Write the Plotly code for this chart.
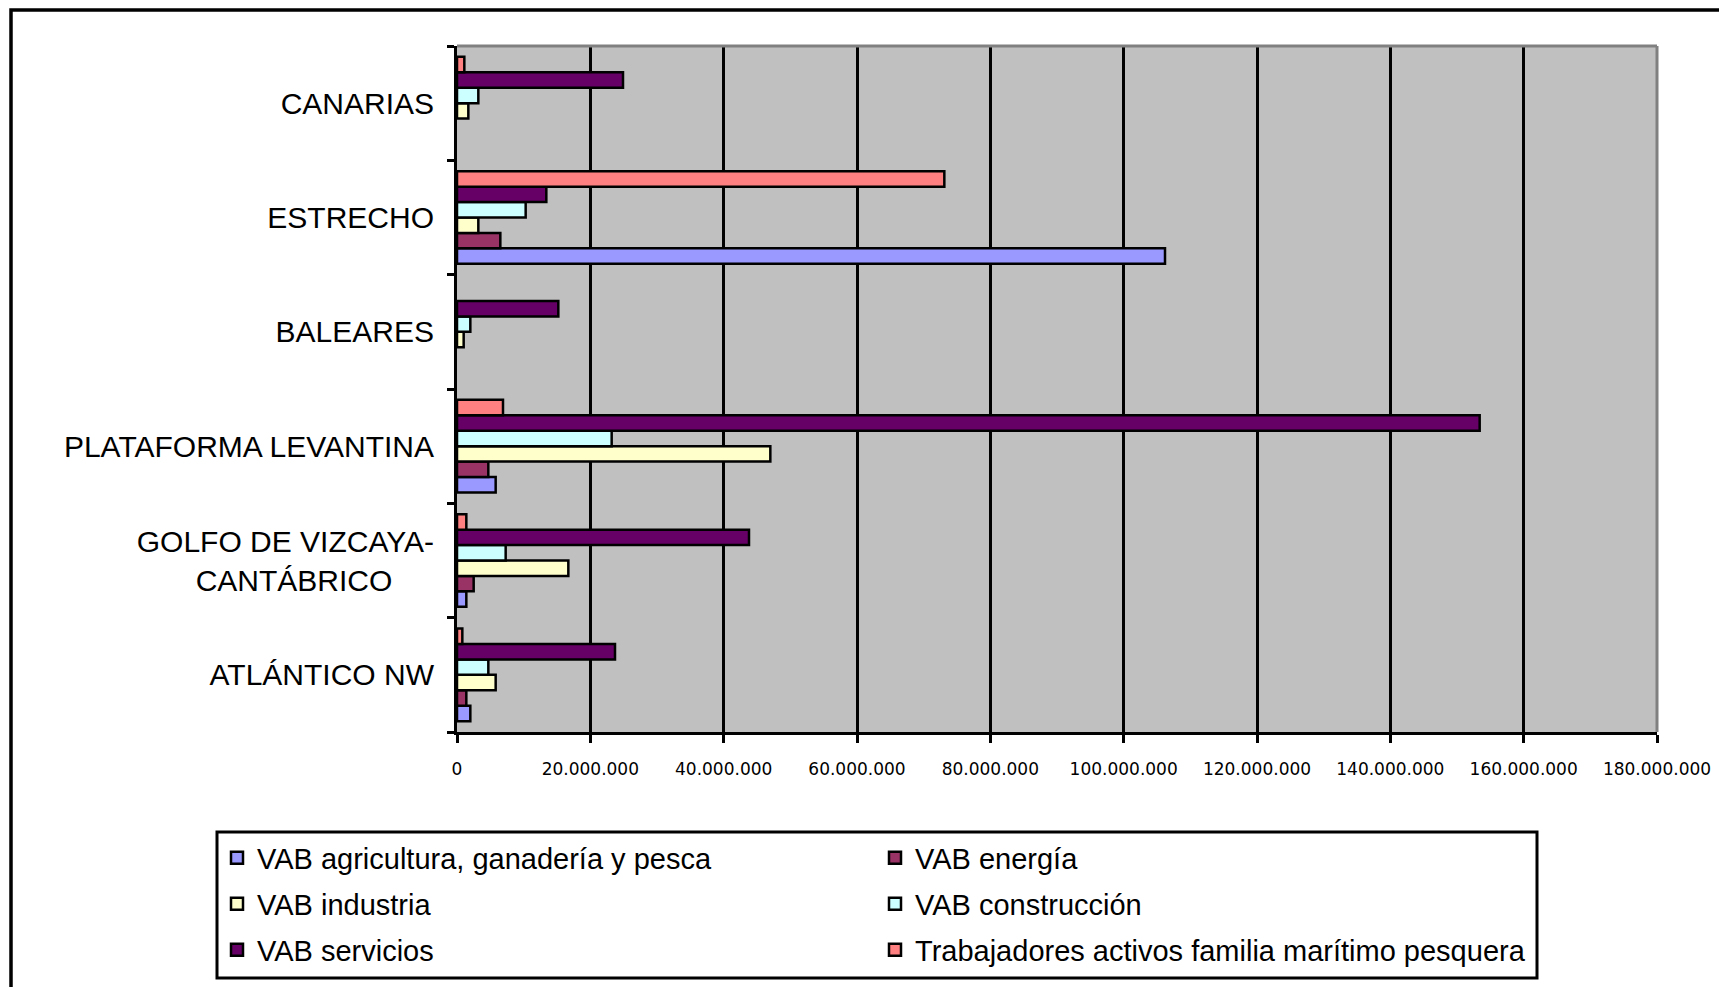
import plotly.graph_objects as go

# ---- data ----
categories = ["ATLÁNTICO NW", "GOLFO DE VIZCAYA-CANTÁBRICO", "PLATAFORMA LEVANTINA",
              "BALEARES", "ESTRECHO", "CANARIAS"]
category_labels = ["ATLÁNTICO NW", "GOLFO DE VIZCAYA-<br>CANTÁBRICO\u00a0\u00a0\u00a0\u00a0\u00a0",
                   "PLATAFORMA LEVANTINA", "BALEARES", "ESTRECHO", "CANARIAS"]

series_names = ["VAB agricultura, ganadería y pesca", "VAB energía", "VAB industria",
                "VAB construcción", "VAB servicios",
                "Trabajadores activos familia marítimo pesquera"]

vab_agricultura = [2.0e6, 1.4e6, 5.8e6, None, 106.2e6, None]
vab_energia = [1.4e6, 2.5e6, 4.7e6, None, 6.5e6, None]
vab_industria = [5.8e6, 16.7e6, 47.0e6, 1.0e6, 3.2e6, 1.7e6]
vab_construccion = [4.7e6, 7.3e6, 23.2e6, 2.0e6, 10.3e6, 3.2e6]
vab_servicios = [23.7e6, 43.8e6, 153.4e6, 15.2e6, 13.4e6, 24.9e6]
trabajadores = [0.8e6, 1.4e6, 6.9e6, None, 73.1e6, 1.1e6]

x_tickvals = [0, 20e6, 40e6, 60e6, 80e6, 100e6, 120e6, 140e6, 160e6, 180e6]
x_ticktext = ["0", "20.000.000", "40.000.000", "60.000.000", "80.000.000",
              "100.000.000", "120.000.000", "140.000.000", "160.000.000", "180.000.000"]

colors = ["#9999FF", "#993366", "#FFFFCC", "#CCFFFF", "#660066", "#FF8080"]
all_series = [vab_agricultura, vab_energia, vab_industria, vab_construccion, vab_servicios, trabajadores]
legend_ids = ["legend", "legend", "legend2", "legend2", "legend3", "legend3"]

# ---- layout geometry (pixels, relative to the figure; page has an 8px body margin) ----
OFF = 8
W, H = 1727 - OFF, 987 - OFF
L, R, T, B = 457 - OFF, 1657 - OFF, 46 - OFF, 732 - OFF
PW, PH = R - L, B - T


def px(xp):
    return (xp - OFF - L) / PW


def py(yp):
    return (B - (yp - OFF)) / PH


FONT = "Liberation Sans, Arial, sans-serif"
TICKFONT = "DejaVu Sans, Liberation Sans, sans-serif"

fig = go.Figure()
for name, vals, col, lg in zip(series_names, all_series, colors, legend_ids):
    fig.add_trace(go.Bar(
        y=categories, x=vals, name=name, orientation="h",
        marker=dict(color=col, line=dict(color="black", width=2.5)),
        legend=lg,
    ))

legend_common = dict(
    orientation="h", xanchor="left", yanchor="middle",
    font=dict(family=FONT, size=29, color="black"),
    bgcolor="rgba(0,0,0,0)", borderwidth=0,
    entrywidth=613, entrywidthmode="pixels",
    itemclick=False, itemdoubleclick=False,
)

fig.update_layout(
    width=W, height=H,
    margin=dict(l=L, r=W - R, t=T, b=H - B),
    paper_bgcolor="white",
    plot_bgcolor="#C0C0C0",
    barmode="group",
    bargap=0.19,
    bargroupgap=0,
    font=dict(family=FONT, color="black"),
    showlegend=True,
    legend=dict(x=px(217), y=py(858), **legend_common),
    legend2=dict(x=px(217), y=py(904), **legend_common),
    legend3=dict(x=px(217), y=py(950), **legend_common),
    xaxis=dict(
        range=[0, 180e6],
        tickmode="array", tickvals=x_tickvals, ticktext=x_ticktext,
        showgrid=True, gridcolor="black", gridwidth=2.5,
        zeroline=False,
        showline=True, linecolor="black", linewidth=3,
        ticks="outside", ticklen=8, tickwidth=2.5, tickcolor="black",
        tickfont=dict(family=TICKFONT, size=17, color="black"),
        ticklabelstandoff=12,
        fixedrange=True,
    ),
    yaxis=dict(
        type="category",
        categoryorder="array", categoryarray=categories,
        tickmode="array", tickvals=categories, ticktext=category_labels,
        tickson="boundaries",
        showgrid=False, zeroline=False,
        showline=True, linecolor="black", linewidth=3,
        ticks="outside", ticklen=7, tickwidth=3, tickcolor="black",
        tickfont=dict(family=FONT, size=30, color="black"),
        ticklabelstandoff=14,
        fixedrange=True,
    ),
    shapes=[
        # plot area top & right border (gray)
        dict(type="line", xref="paper", yref="paper", x0=0, x1=1, y0=1, y1=1,
             line=dict(color="#808080", width=3), layer="above"),
        dict(type="line", xref="paper", yref="paper", x0=1, x1=1, y0=0, y1=1,
             line=dict(color="#808080", width=3), layer="above"),
        # outer chart frame
        dict(type="rect", xref="paper", yref="paper",
             x0=px(11), x1=px(1790), y0=py(10), y1=py(1050),
             line=dict(color="black", width=3.5), fillcolor="rgba(0,0,0,0)", layer="above"),
        # legend box
        dict(type="rect", xref="paper", yref="paper",
             x0=px(217), x1=px(1537), y0=py(832), y1=py(978),
             line=dict(color="black", width=3), fillcolor="rgba(0,0,0,0)", layer="above"),
    ],
)

fig.write_html("out.html")
